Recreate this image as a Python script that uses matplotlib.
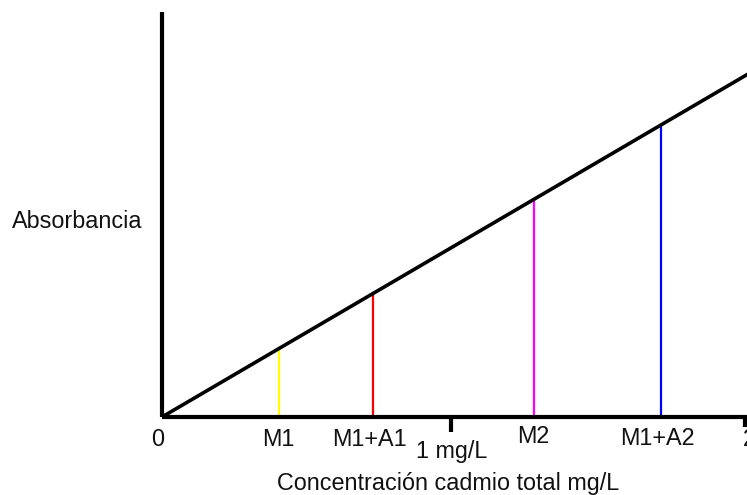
import matplotlib
matplotlib.use("Agg")
import matplotlib.pyplot as plt
from matplotlib.transforms import blended_transform_factory

# Data
line_x = [0.0, 2.01]
line_y = [0.0, 2.01]
sample_labels = ["M1", "M1+A1", "M2", "M1+A2"]
sample_x = [0.40, 0.724, 1.276, 1.712]
sample_y = [0.40, 0.724, 1.276, 1.712]
sample_colors = ["#FFFF00", "#FF0000", "#FF00FF", "#0000FF"]
tick_labels = ["0", "1 mg/L", "2"]
tick_x = [0.0, 0.99, 2.0]

W, H = 747, 495
fig = plt.figure(figsize=(W / 100, H / 100), dpi=100)
x0, x1 = 162, 747
y0, y1 = 417, 12
ax = fig.add_axes([x0 / W, 1 - y0 / H, (x1 - x0) / W, (y0 - y1) / H])
ax.set_xlim(0, 2.007)
ax.set_ylim(0, (y0 - y1) / 170.6)
fam = ['Liberation Sans', 'DejaVu Sans']
fs = 16.8
tc = "#111111"

for s in ["top", "right"]:
    ax.spines[s].set_visible(False)
for s in ["left", "bottom"]:
    ax.spines[s].set_linewidth(3)
    ax.spines[s].set_color("black")
    ax.spines[s].set_capstyle("butt")
ax.set_yticks([])
ax.set_xticks([tick_x[1]])
ax.set_xticks([tick_x[2]], minor=True)
ax.tick_params(axis="x", which="major", length=11, width=3, labelbottom=False, color="black")
ax.tick_params(axis="x", which="minor", length=7, width=3, labelbottom=False, color="black")

ax.plot(line_x, line_y, color="black", lw=2.6, solid_capstyle="butt", zorder=3)
for x, y, c in zip(sample_x, sample_y, sample_colors):
    ax.plot([x, x], [0, y], color=c, lw=1.6, zorder=2)

tr = blended_transform_factory(fig.transFigure, fig.transFigure)
# label centres / baselines in pixels
sample_lab_px = [278.5, 369, 533, 657]
sample_base_px = [446, 446, 443, 445]
for lab, xp, yp in zip(sample_labels, sample_lab_px, sample_base_px):
    fig.text(xp / W, 1 - yp / H, lab, ha="center", va="baseline",
             fontsize=fs, family=fam, color=tc)
tick_lab_px = [158, 452, 743]
tick_ha = ["center", "center", "left"]
tick_base_px = [446, 458, 446]
for lab, xp, yp, ha in zip(tick_labels, tick_lab_px, tick_base_px, tick_ha):
    fig.text(xp / W, 1 - yp / H, lab, ha=ha, va="baseline",
             fontsize=fs, family=fam, color=tc)

fig.text(77 / W, 1 - 228 / H, "Absorbancia", ha="center", va="baseline",
         fontsize=fs, family=fam, color=tc)
fig.text(448 / W, 1 - 490 / H, "Concentración cadmio total mg/L", ha="center", va="baseline",
         fontsize=fs, family=fam, color=tc)

fig.savefig("out.png", dpi=100)
